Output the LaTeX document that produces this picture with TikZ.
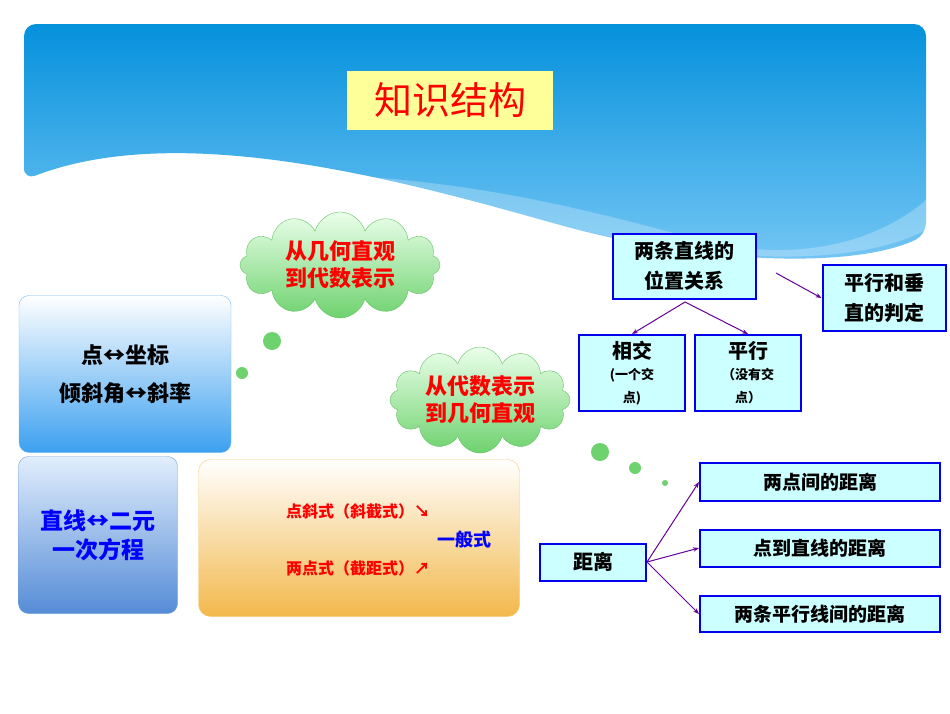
\documentclass[tikz,border=0pt]{standalone}
\usepackage{fontspec}
\setmainfont{Noto Sans CJK SC}
\usetikzlibrary{shapes.symbols,arrows.meta}
\definecolor{pur}{HTML}{660099}
\definecolor{bbord}{HTML}{0000EE}
\definecolor{cyanf}{HTML}{CCFFFF}
\tikzset{
 rbox/.style={draw=bbord,line width=2pt,fill=cyanf,align=center,font=\bfseries\fontsize{19}{23}\selectfont,inner sep=1pt},
 cloudn/.style={cloud,cloud puffs=12,aspect=2,inner sep=0pt,draw=green!60!black!60,top color=green!8,bottom color={rgb,255:red,110;green,210;blue,110},align=center,text=red,font=\bfseries\fontsize{22}{27}\selectfont},
 dotn/.style={circle,fill={rgb,255:red,110;green,210;blue,110},inner sep=0pt},
 con/.style={pur,line width=1pt,-{Stealth[length=6pt]}},
 lbl/.style={text=red,font=\bfseries\fontsize{16}{19}\selectfont}
}
\begin{document}
\begin{tikzpicture}[x=1pt,y=-1pt]
\useasboundingbox (0,0) rectangle (950,713);
\fill[white] (0,0) rectangle (950,713);
% blue header
\shade[rounded corners=12,top color={rgb,255:red,5;green,145;blue,220},bottom color={rgb,255:red,120;green,200;blue,245}]
 (24,180) -- (24,24) -- (926,24) -- (926,235)
 .. controls (850,270) and (700,262) .. (560,225) .. controls (400,180) and (180,120) .. (24,180) -- cycle;
\fill[white,opacity=0.25] (150,178) .. controls (400,160) and (550,200) .. (700,240) .. controls (800,265) and (880,240) .. (926,200) -- (926,230) .. controls (850,270) and (700,262) .. (560,225) .. controls (400,185) and (250,160) .. (150,178) -- cycle;
% title
\node[fill={rgb,255:red,255;green,255;blue,153},minimum width=206,minimum height=59,text=red,font=\fontsize{38}{42}\selectfont] (title) at (450,100) {知识结构};
% clouds and dots
\node[cloudn,minimum width=200,minimum height=80] (c1) at (340,265) {从几何直观\\到代数表示};
\node[dotn,minimum size=18] (d1) at (272,341) {};
\node[dotn,minimum size=12] (d2) at (242,373) {};
\node[dotn,minimum size=4] (d3) at (217,400) {};
\node[cloudn,minimum width=180,minimum height=80] (c2) at (480,400) {从代数表示\\到几何直观};
\node[dotn,minimum size=18] (d4) at (600,452) {};
\node[dotn,minimum size=12] (d5) at (635,468) {};
\node[dotn,minimum size=6] (d6) at (665,483) {};
% left boxes
\node[rounded corners=10,draw={rgb,255:red,120;green,190;blue,240},top color=white,bottom color={rgb,255:red,60;green,160;blue,240},minimum width=212,minimum height=157,align=center,font=\bfseries\fontsize{22}{38}\selectfont] (A) at (125,374) {点↔坐标\\倾斜角↔斜率};
\node[rounded corners=10,draw={rgb,255:red,120;green,160;blue,220},top color={rgb,255:red,225;green,238;blue,252},bottom color={rgb,255:red,85;green,140;blue,215},minimum width=159,minimum height=157,align=center,text=blue,font=\bfseries\fontsize{23}{29}\selectfont] (B) at (98,535) {直线↔二元\\一次方程};
\node[rounded corners=12,draw={rgb,255:red,245;green,205;blue,120},top color=white,bottom color={rgb,255:red,242;green,184;blue,75},minimum width=321,minimum height=157] (C) at (359,538) {};
\node[lbl] (f1) at (358,511) {点斜式（斜截式）↘};
\node[lbl,text=blue,font=\bfseries\fontsize{18}{21}\selectfont] (f2) at (464,540) {一般式};
\node[lbl] (f3) at (358,568) {两点式（截距式）↗};
% right boxes
\node[rbox,font=\bfseries\fontsize{20}{30}\selectfont,minimum width=143,minimum height=65] (pos) at (684,266) {两条直线的\\位置关系};
\node[rbox,font=\bfseries\fontsize{20}{30}\selectfont,minimum width=123,minimum height=66] (pj) at (884,298) {平行和垂\\直的判定};
\node[rbox,minimum width=106,minimum height=76] (xj) at (632,373) {{\fontsize{20}{22}\selectfont 相交}\\[-2pt]{\fontsize{13}{16}\selectfont (一个交}\\{\fontsize{13}{16}\selectfont 点)}};
\node[rbox,minimum width=106,minimum height=76] (px) at (748,373) {{\fontsize{20}{22}\selectfont 平行}\\[-2pt]{\fontsize{13}{16}\selectfont （没有交}\\{\fontsize{13}{16}\selectfont 点）}};
\node[rbox,font=\bfseries\fontsize{20}{22}\selectfont,minimum width=106,minimum height=37] (jl) at (593,562) {距离};
\node[rbox,minimum width=240,minimum height=38] (r1) at (820,482) {两点间的距离};
\node[rbox,minimum width=240,minimum height=37] (r2) at (820,548) {点到直线的距离};
\node[rbox,minimum width=240,minimum height=36] (r3) at (820,614) {两条平行线间的距离};
% connectors
\coordinate (s0) at (776,273);
\draw[con] (s0) -- (pj.west);
\coordinate (s1) at (685,302);
\draw[con] (s1) -- (xj.north);
\draw[con] (s1) -- (px.north);
\draw[con] (jl.east) -- (r1.west);
\draw[con] (jl.east) -- (r2.west);
\draw[con] (jl.east) -- (r3.west);
\end{tikzpicture}
\end{document}
